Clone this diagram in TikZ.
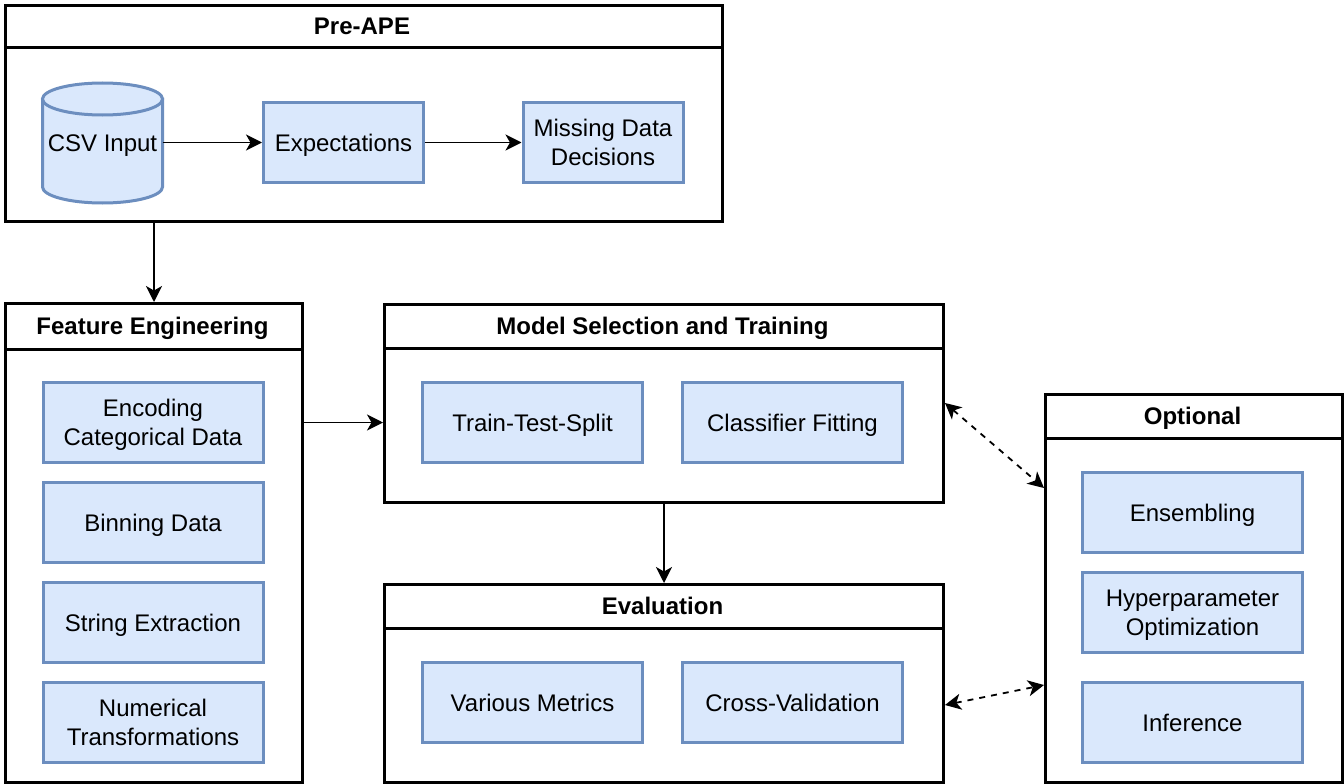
\documentclass[tikz,border=0pt]{standalone}
\usepackage{fontspec}
\setmainfont{Liberation Sans}
\usetikzlibrary{arrows.meta,calc}
\definecolor{bfill}{HTML}{DAE8FC}
\definecolor{bline}{HTML}{6C8EBF}
\begin{document}
\begin{tikzpicture}[x=1pt,y=-1pt,
  every node/.style={font=\fontsize{24}{29}\selectfont},
  one/.style={text height=17pt,text depth=0pt},
  two/.style={text height=46pt,text depth=0pt},
  contbox/.style={draw=black,line width=3pt,rectangle,inner sep=0pt,anchor=north west},
  hdr/.style={font=\fontsize{24}{29}\selectfont\bfseries,one},
  inbox/.style={draw=bline,fill=bfill,line width=3pt,rectangle,inner sep=2pt,align=center,minimum width=220pt,minimum height=80pt},
  smallbox/.style={inbox,minimum width=160pt},
  arr/.style={line width=1.8pt,-{Stealth[length=16pt,width=16pt,inset=4.5pt]}},
  darr/.style={line width=1.8pt,dash pattern=on 6pt off 6pt,{Stealth[length=16pt,width=16pt,inset=4.5pt]}-{Stealth[length=16pt,width=16pt,inset=4.5pt]}}
]
\useasboundingbox (0,0) rectangle (1344,784);
% containers
\node[contbox,minimum width=717pt,minimum height=216pt] (pre) at (4,4) {};
\draw[line width=3pt] (pre.west |- 0,48) -- (pre.east |- 0,48);
\node[hdr] (preT) at (362,26) {Pre-APE};

\node[contbox,minimum width=297pt,minimum height=479pt] (fe) at (4,302) {};
\draw[line width=3pt] (fe.west |- 0,349) -- (fe.east |- 0,349);
\node[hdr] (feT) at (152.5,326) {Feature Engineering};

\node[contbox,minimum width=559pt,minimum height=198pt] (ms) at (383,303) {};
\draw[line width=3pt] (ms.west |- 0,348) -- (ms.east |- 0,348);
\node[hdr] (msT) at (662.5,326) {Model Selection and Training};

\node[contbox,minimum width=559pt,minimum height=198pt] (ev) at (383,583) {};
\draw[line width=3pt] (ev.west |- 0,628) -- (ev.east |- 0,628);
\node[hdr] (evT) at (662.5,606) {Evaluation};

\node[contbox,minimum width=297pt,minimum height=388pt] (opt) at (1044,393) {};
\draw[line width=3pt] (opt.west |- 0,438) -- (opt.east |- 0,438);
\node[hdr] (optT) at (1192.5,416) {Optional};

% cylinder
\path[draw=bline,fill=bfill,line width=3pt] (42.5,99) -- (42.5,187) arc[start angle=180,end angle=360,x radius=60pt,y radius=16pt] -- (162.5,99) -- cycle;
\path[draw=bline,fill=bfill,line width=3pt] (102.5,99) ellipse[x radius=60pt,y radius=16pt];
\node[minimum width=120pt,minimum height=120pt,inner sep=0pt,one] (csv) at (102.5,142.5) {CSV Input};

% inner boxes
\node[smallbox,one] (exp) at (343.5,142.5) {Expectations};
\node[smallbox,two] (miss) at (603,142.5) {Missing Data\\Decisions};

\node[inbox,two] (enc) at (153,422.5) {Encoding\\Categorical Data};
\node[inbox,one] (bin) at (153,522.5) {Binning Data};
\node[inbox,one] (str) at (153,622.5) {String Extraction};
\node[inbox,two] (num) at (153,722.5) {Numerical\\Transformations};

\node[inbox,one] (tts) at (532.5,422.5) {Train-Test-Split};
\node[inbox,one] (clf) at (792.5,422.5) {Classifier Fitting};
\node[inbox,one] (met) at (532.5,702.5) {Various Metrics};
\node[inbox,one] (cv) at (792.5,702.5) {Cross-Validation};

\node[inbox,one] (ens) at (1192.5,512.5) {Ensembling};
\node[inbox,two] (hyp) at (1192.5,612.5) {Hyperparameter\\Optimization};
\node[inbox,one] (inf) at (1192.5,722.5) {Inference};

% connectors
\draw[arr] (csv.east) -- (exp.west);
\draw[arr] (exp.east) -- (miss.west);
\draw[arr] (fe.north |- pre.south) -- (fe.north);
\draw[arr] (fe.east |- enc.east) -- (ms.west |- enc.east);
\draw[arr] (ms.south) -- (ev.north);
\draw[darr] ($(ms.north east)+(0,100)$) -- ($(opt.north west)+(0,95)$);
\draw[darr] ($(ev.north east)+(0,122)$) -- ($(opt.north west)+(0,292)$);
\end{tikzpicture}
\end{document}
